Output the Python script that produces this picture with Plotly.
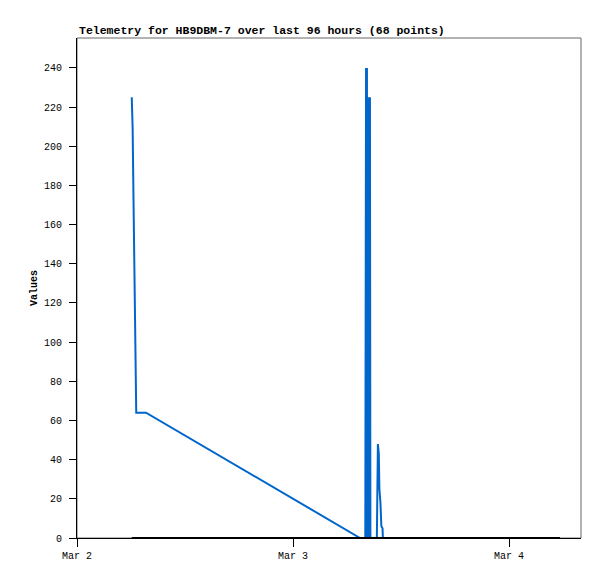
import plotly.graph_objects as go

# Blue channel
blue_times = [
    "2024-03-02 06:05", "2024-03-02 06:11", "2024-03-02 06:16", "2024-03-02 06:20",
    "2024-03-02 06:25", "2024-03-02 06:30", "2024-03-02 06:35", "2024-03-02 07:40",
    "2024-03-03 07:27",
    "2024-03-03 08:02", "2024-03-03 08:03", "2024-03-03 08:04", "2024-03-03 08:05",
    "2024-03-03 08:06", "2024-03-03 08:07", "2024-03-03 08:08", "2024-03-03 08:09",
    "2024-03-03 08:10", "2024-03-03 08:11", "2024-03-03 08:12", "2024-03-03 08:13",
    "2024-03-03 08:14", "2024-03-03 08:15", "2024-03-03 08:16", "2024-03-03 08:17",
    "2024-03-03 08:18", "2024-03-03 08:19", "2024-03-03 08:20", "2024-03-03 08:21",
    "2024-03-03 08:22", "2024-03-03 08:23", "2024-03-03 08:24", "2024-03-03 08:25",
    "2024-03-03 08:26", "2024-03-03 08:27", "2024-03-03 08:28", "2024-03-03 08:29",
    "2024-03-03 08:30", "2024-03-03 08:31", "2024-03-03 08:32", "2024-03-03 08:33",
    "2024-03-03 08:34", "2024-03-03 08:35", "2024-03-03 08:36",
    "2024-03-03 09:19", "2024-03-03 09:21", "2024-03-03 09:26", "2024-03-03 09:32",
    "2024-03-03 09:36", "2024-03-03 09:43", "2024-03-03 09:49", "2024-03-03 09:57",
    "2024-03-03 09:59", "2024-03-04 05:40",
]
blue_values = [
    225, 209, 177, 145,
    113, 81, 64, 64,
    0,
    0, 240, 0, 240, 0, 240, 0, 240, 0, 240, 0, 240,
    0, 225, 0, 225, 0, 225, 0, 225, 0, 225, 0, 225,
    0, 225, 0, 225, 0, 225, 0, 225, 0, 169, 0,
    0, 24, 48, 43,
    25, 18, 6, 5,
    0, 0,
]

# Black channel (flat zero)
black_times = ["2024-03-02 06:05", "2024-03-04 05:40"]
black_values = [0, 0]

title_text = "Telemetry for HB9DBM-7 over last 96 hours (68 points)"
y_ticks = list(range(0, 241, 20))

FONT = "Liberation Mono"

fig = go.Figure()
fig.add_trace(go.Scatter(x=blue_times, y=blue_values, mode="lines",
                         line=dict(color="#0066cc", width=2), showlegend=False))
fig.add_trace(go.Scatter(x=black_times, y=black_values, mode="lines",
                         line=dict(color="#000000", width=2), showlegend=False))

# page has an 8px body margin, so the figure is sized/offset to compensate
fig.update_layout(
    width=589, height=571,
    margin=dict(l=69, r=16, t=30, b=41),
    paper_bgcolor="white", plot_bgcolor="white",
    font=dict(family=FONT, size=10, color="black"),
    showlegend=False,
    shapes=[dict(type="rect", xref="paper", yref="paper", x0=0, y0=0, x1=1, y1=1,
                 line=dict(color="#666666", width=1), layer="below")],
    annotations=[dict(text="<b>" + title_text + "</b>", xref="paper", yref="paper",
                      x=0, y=1, xanchor="left", yanchor="bottom", yshift=-1,
                      showarrow=False, font=dict(family=FONT, size=11.5, color="black"))],
)
fig.update_xaxes(
    range=["2024-03-02 00:00", "2024-03-04 08:00"],
    type="date", tickformat="%b %-d", dtick=86400000, tick0="2024-03-02",
    showgrid=False, zeroline=False,
    showline=True, linecolor="black", linewidth=1,
    ticks="outside", ticklen=8, tickcolor="black",
    tickfont=dict(family=FONT, size=10),
)
fig.update_yaxes(
    range=[0, 255.3], tickvals=y_ticks,
    showgrid=False, zeroline=False,
    showline=True, linecolor="black", linewidth=1,
    ticks="outside", ticklen=7, tickcolor="black", ticklabelstandoff=5,
    tickfont=dict(family=FONT, size=10),
    title=dict(text="<b>Values</b>", font=dict(family=FONT, size=10), standoff=4),
)

fig.write_html("out.html")
